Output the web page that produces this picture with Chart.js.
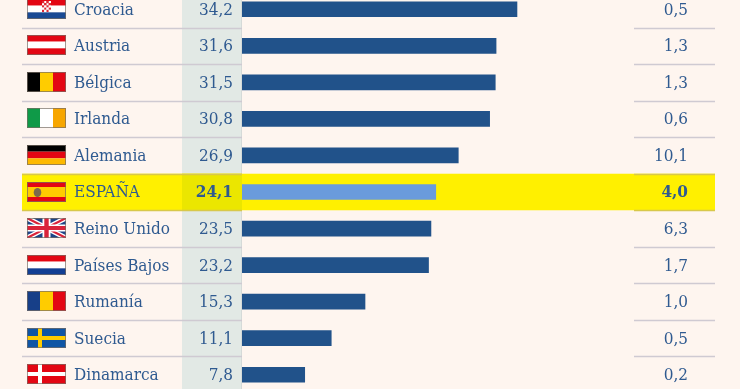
<!DOCTYPE html>
<html>
<head>
<meta charset="utf-8">
<style>
  html, body { margin: 0; padding: 0; background: #fef5ef; overflow: hidden; }
  #wrap { position: absolute; left: 0; top: -9px; width: 740px; height: 402px; }
</style>
<script src="https://cdn.jsdelivr.net/npm/chart.js@4"></script>
</head>
<body>
<div id="wrap"><canvas id="grafico" width="740" height="402"></canvas></div>
<script>
// Datos
const paises = ["Croacia", "Austria", "Bélgica", "Irlanda", "Alemania", "ESPAÑA", "Reino Unido", "Países Bajos", "Rumanía", "Suecia", "Dinamarca"];
const valores = [34.2, 31.6, 31.5, 30.8, 26.9, 24.1, 23.5, 23.2, 15.3, 11.1, 7.8];
const segunda = ["0,5", "1,3", "1,3", "0,6", "10,1", "4,0", "6,3", "1,7", "1,0", "0,5", "0,2"];
const banderas = ["hr", "at", "be", "ie", "de", "es", "gb", "nl", "ro", "se", "dk"];
const destacado = "ESPAÑA";

const AZUL = "#21528a";
const TEXTO = "#2f5a90";
const SERIF = '"DejaVu Serif Condensed", "DejaVu Serif", serif';
const TAM = 17;

// Banderas: se dibujan dentro de una caja de 39x20
function franjasH(c, x, y, cols) {
    cols.forEach((col, i) => { c.fillStyle = col; c.fillRect(x, y + i * 20 / cols.length, 39, 20 / cols.length); });
}
function franjasV(c, x, y, cols) {
    cols.forEach((col, i) => { c.fillStyle = col; c.fillRect(x + i * 13, y, 13, 20); });
}
function bandera(c, code, x, y) {
    c.save();
    if (code === "hr") {
        franjasH(c, x, y, ["#e30613", "#ffffff", "#1a4a94"]);
        // escudo a cuadros
        for (let f = 0; f < 5; f++) {
            for (let k = 0; k < 4; k++) {
                c.fillStyle = (f + k) % 2 ? "#ffffff" : "#dc2a35";
                c.fillRect(x + 15 + k * 2.25, y + 2 + f * 2.2, 2.25, 2.2);
            }
        }
    } else if (code === "at") franjasH(c, x, y, ["#e30613", "#ffffff", "#e30613"]);
    else if (code === "be") franjasV(c, x, y, ["#000000", "#ffcc00", "#e30613"]);
    else if (code === "ie") franjasV(c, x, y, ["#0f9a48", "#ffffff", "#f7a600"]);
    else if (code === "de") franjasH(c, x, y, ["#000000", "#e30613", "#fdb900"]);
    else if (code === "nl") franjasH(c, x, y, ["#e30613", "#ffffff", "#123f94"]);
    else if (code === "ro") franjasV(c, x, y, ["#173f88", "#ffcc00", "#e30613"]);
    else if (code === "es") {
        franjasH(c, x, y, ["#e30613", "#ffcc00", "#ffcc00", "#e30613"]);
        c.fillStyle = "#7d6a4c";
        c.beginPath(); c.ellipse(x + 10.5, y + 10.5, 3.8, 4.5, 0, 0, Math.PI * 2); c.fill();
    } else if (code === "se") {
        c.fillStyle = "#0f55a5"; c.fillRect(x, y, 39, 20);
        c.fillStyle = "#ffcc00"; c.fillRect(x + 11, y, 4, 20); c.fillRect(x, y + 8, 39, 4);
    } else if (code === "dk") {
        c.fillStyle = "#e30613"; c.fillRect(x, y, 39, 20);
        c.fillStyle = "#ffffff"; c.fillRect(x + 11, y, 4, 20); c.fillRect(x, y + 8, 39, 4);
    } else if (code === "gb") {
        c.fillStyle = "#1d4487"; c.fillRect(x, y, 39, 20);
        c.beginPath(); c.rect(x, y, 39, 20); c.clip();
        c.strokeStyle = "#ffffff"; c.lineWidth = 5;
        c.beginPath(); c.moveTo(x, y); c.lineTo(x + 39, y + 20); c.moveTo(x + 39, y); c.lineTo(x, y + 20); c.stroke();
        c.strokeStyle = "#d9233a"; c.lineWidth = 2.2; c.stroke();
        c.fillStyle = "#ffffff"; c.fillRect(x + 15.5, y, 8, 20); c.fillRect(x, y + 6.5, 39, 7);
        c.fillStyle = "#d9233a"; c.fillRect(x + 17.3, y, 4.4, 20); c.fillRect(x, y + 8, 39, 4);
    }
    c.restore();
    c.strokeStyle = "rgba(120,110,100,0.7)";
    c.lineWidth = 1;
    c.strokeRect(x + 0.5, y + 0.5, 38, 19);
}

// Fondo de la tabla: columna gris, fila amarilla y separadores
const tablaFondo = {
    id: "tablaFondo",
    beforeDraw(chart) {
        const c = chart.ctx;
        const y = chart.scales.y;
        const alto = y.getPixelForTick(1) - y.getPixelForTick(0);
        c.save();
        c.fillStyle = "#e2e9e5";
        c.fillRect(182, 0, 60, chart.height);
        c.fillStyle = "#d5dad8";
        c.fillRect(241, 0, 1, chart.height);
        paises.forEach((p, i) => {
            const yc = y.getPixelForTick(i);
            if (p === destacado) {
                c.fillStyle = "#fff000";
                c.fillRect(22, yc - alto / 2, 693, alto);
                c.fillStyle = "#ebe600";
                c.fillRect(182, yc - alto / 2, 60, alto);
            }
            if (i > 0) {
                const yl = Math.round(yc - alto / 2) + 0.5;
                const cerca = p === destacado || paises[i - 1] === destacado;
                c.strokeStyle = cerca ? "#d8c84a" : "#cfcad2";
                c.lineWidth = 1.3;
                c.beginPath();
                c.moveTo(22, yl); c.lineTo(242, yl);
                c.moveTo(634, yl); c.lineTo(715, yl);
                c.stroke();
            }
        });
        c.restore();
    },
    // Textos y banderas de cada fila, colocados con la escala y
    afterDatasetsDraw(chart) {
        const c = chart.ctx;
        const y = chart.scales.y;
        c.save();
        c.textBaseline = "middle";
        paises.forEach((p, i) => {
            const yc = y.getPixelForTick(i);
            const neg = p === destacado ? "bold " : "";
            bandera(c, banderas[i], 27, Math.floor(yc) - 10);
            c.fillStyle = TEXTO;
            c.font = TAM + "px " + SERIF;
            c.textAlign = "left";
            c.fillText(p, 74, yc + 1);
            c.font = neg + TAM + "px " + SERIF;
            c.textAlign = "right";
            c.fillText(valores[i].toFixed(1).replace(".", ","), 233, yc + 1);
            c.fillText(segunda[i], 688, yc + 1);
        });
        c.restore();
    }
};

new Chart(document.getElementById("grafico"), {
    type: "bar",
    data: {
        labels: paises,
        datasets: [{
            data: valores,
            backgroundColor: paises.map(p => p === destacado ? "#6a9bdc" : AZUL),
            barThickness: 15,
            borderWidth: 0
        }]
    },
    options: {
        indexAxis: "y",
        responsive: false,
        animation: false,
        layout: { autoPadding: false, padding: { left: 242, right: 0, top: 0, bottom: 0 } },
        plugins: { legend: { display: false }, tooltip: { enabled: false } },
        scales: {
            x: { display: false, min: 0, max: 61.94 },
            y: { display: false, offset: true }
        }
    },
    plugins: [tablaFondo]
});
</script>
</body>
</html>
